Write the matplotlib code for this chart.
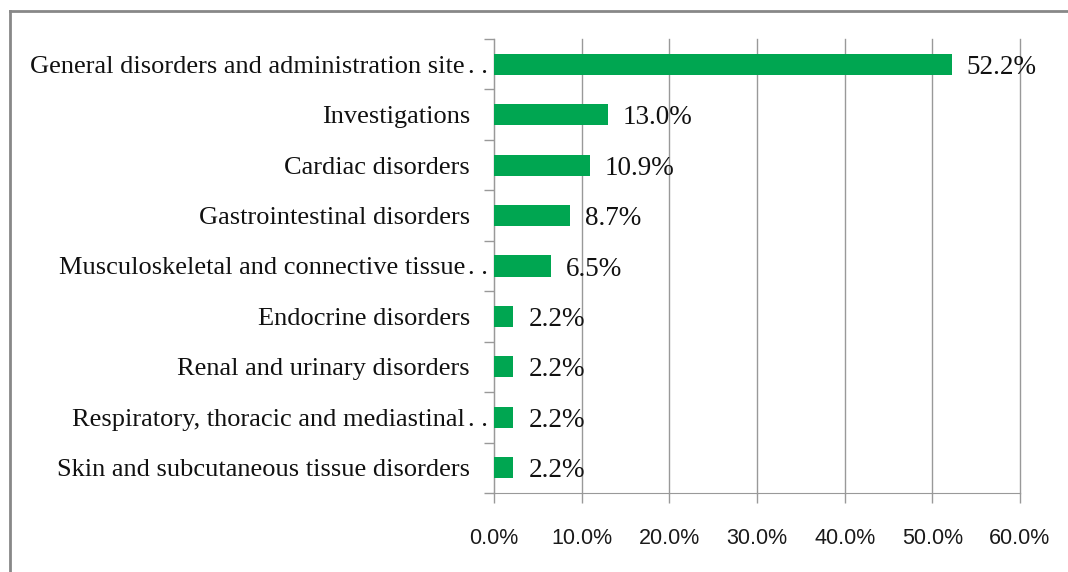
import matplotlib
matplotlib.use("Agg")
import matplotlib.pyplot as plt
from matplotlib.lines import Line2D
from matplotlib.ticker import FuncFormatter, MultipleLocator
from matplotlib.transforms import blended_transform_factory, offset_copy

categories = [
    "General disorders and administration site",
    "Investigations",
    "Cardiac disorders",
    "Gastrointestinal disorders",
    "Musculoskeletal and connective tissue",
    "Endocrine disorders",
    "Renal and urinary disorders",
    "Respiratory, thoracic and mediastinal",
    "Skin and subcutaneous tissue disorders",
]
truncated = [True, False, False, False, True, False, False, True, False]
values = [52.2, 13.0, 10.9, 8.7, 6.5, 2.2, 2.2, 2.2, 2.2]

fig = plt.figure(figsize=(10.68, 5.72), dpi=100)
ax = fig.add_axes([494 / 1068, 1 - 493 / 572, (1020 - 494) / 1068, (493 - 39) / 572])

n = len(categories)
ypos = list(range(n))[::-1]
ax.barh(ypos, values, height=0.42, color="#00A651", zorder=3)
ax.set_ylim(-0.5, n - 0.5)
ax.set_xlim(0, 60)

val_tr = offset_copy(ax.transData, fig=fig, x=15, y=0, units="dots")
for y, v in zip(ypos, values):
    ax.text(v, y, f"{v:.1f}%", va="center_baseline", ha="left", transform=val_tr,
            fontsize=19.5, family="Liberation Serif", color="#111111", zorder=4)

# category labels
FS = 19
blend = blended_transform_factory(ax.transAxes, ax.transData)
for y, lab, tr in zip(ypos, categories, truncated):
    if tr:
        t_lab = offset_copy(blend, fig=fig, x=-29, y=0, units="dots")
        t_dot = offset_copy(blend, fig=fig, x=-6, y=0, units="dots")
        ax.text(0, y, lab, ha="right", va="center_baseline", transform=t_lab,
                fontsize=FS, family="Liberation Serif", color="#111111")
        ax.text(0, y, ". .", ha="right", va="center_baseline", transform=t_dot,
                fontsize=FS, family="Liberation Serif", color="#111111")
    else:
        t_lab = offset_copy(blend, fig=fig, x=-24, y=0, units="dots")
        ax.text(0, y, lab, ha="right", va="center_baseline", transform=t_lab,
                fontsize=FS, family="Liberation Serif", color="#111111")

ax.xaxis.set_major_locator(MultipleLocator(10))
ax.xaxis.set_major_formatter(FuncFormatter(lambda x, p: f"{x:.1f}%"))
ax.grid(axis="x", color="#999999", linewidth=1.0, zorder=0)
for gl in ax.get_xgridlines():
    gl.set_clip_on(False)
ax.set_axisbelow(True)

ax.set_yticks([i - 0.5 for i in range(n + 1)])
ax.set_yticklabels([])
ax.tick_params(axis="y", which="major", length=7, color="#999999", width=1)
ax.tick_params(axis="x", length=7, color="#999999", width=1, pad=18,
               labelsize=15.5, labelcolor="#1a1a1a")
for lbl in ax.get_xticklabels():
    lbl.set_family("Liberation Sans")

for s in ["top", "right"]:
    ax.spines[s].set_visible(False)
ax.spines["left"].set_color("#999999")
ax.spines["bottom"].set_color("#999999")

# outer chart border (partially visible)
x0 = 9.5 / 1068
y0 = 1 - 10.5 / 572
fig.add_artist(Line2D([x0, 1.0], [y0, y0], transform=fig.transFigure, color="#888888", linewidth=2))
fig.add_artist(Line2D([x0, x0], [0.0, y0], transform=fig.transFigure, color="#888888", linewidth=2))

fig.savefig("out.png", dpi=100, facecolor="white")
